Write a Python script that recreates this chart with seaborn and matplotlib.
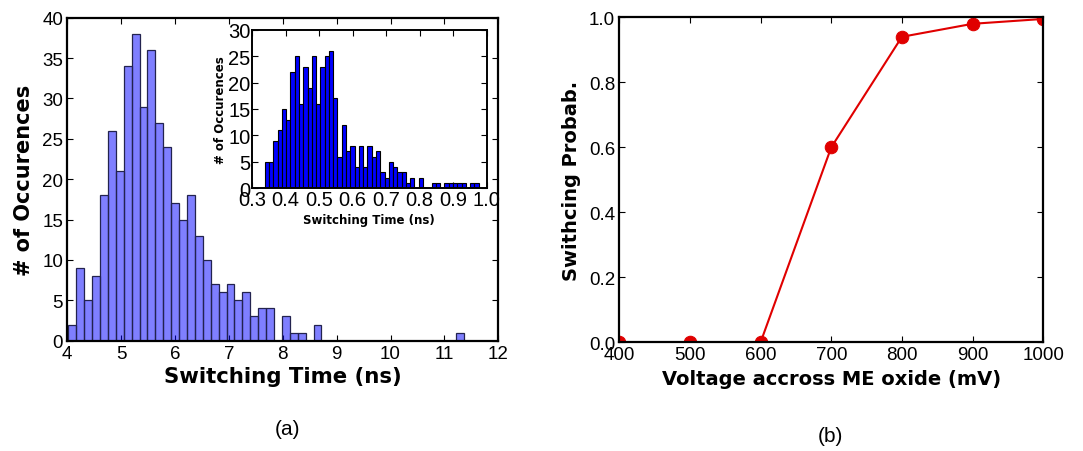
import numpy as np
import pandas as pd
import matplotlib
matplotlib.use("Agg")
import matplotlib.pyplot as plt
import seaborn as sns

# main histogram: 50 bins between t_min and t_max (ns), counts per bin
main_range = [4.02, 11.36]
main_counts = [2, 9, 5, 8, 18, 26, 21, 34, 38, 29, 36, 27, 24, 17, 15, 18, 13, 10, 7, 6,
               7, 5, 6, 3, 4, 4, 0, 3, 1, 1, 0, 2, 0, 0, 0, 0, 0, 0, 0, 0,
               0, 0, 0, 0, 0, 0, 0, 0, 0, 1]

# inset histogram: 50 bins
inset_range = [0.338, 0.976]
inset_counts = [5, 5, 9, 11, 15, 13, 22, 25, 16, 23, 19, 25, 16, 23, 25, 26, 17, 6, 12, 7,
                8, 4, 8, 4, 8, 6, 7, 3, 2, 5, 4, 3, 3, 1, 2, 0, 2, 0, 0, 1,
                1, 0, 1, 1, 1, 1, 1, 0, 1, 1]

# switching probability vs voltage
voltage = [400, 500, 600, 700, 800, 900, 1000]
prob = [0.0, 0.0, 0.0, 0.60, 0.94, 0.98, 0.995]

sns.set_style("ticks")
plt.rcParams['font.family'] = ['Liberation Sans', 'DejaVu Sans']
plt.rcParams['xtick.direction'] = 'in'
plt.rcParams['ytick.direction'] = 'in'
plt.rcParams['xtick.top'] = True
plt.rcParams['ytick.right'] = True
plt.rcParams['text.color'] = 'black'
plt.rcParams['axes.labelcolor'] = 'black'
plt.rcParams['xtick.color'] = 'black'
plt.rcParams['ytick.color'] = 'black'


def hist_df(rng, counts):
    edges = np.linspace(rng[0], rng[1], len(counts) + 1)
    centers = (edges[:-1] + edges[1:]) / 2
    return pd.DataFrame({"t": centers, "n": counts})


def style_axes(ax, lw=1.6, size=13):
    for s in ax.spines.values():
        s.set_linewidth(lw)
        s.set_color('black')
    ax.tick_params(which='major', length=4, width=0.8, labelsize=size, pad=3)


label_font = dict(family='DejaVu Sans', weight='bold')

fig = plt.figure(figsize=(10.83, 4.52), dpi=100)

# (a) main histogram
ax1 = fig.add_axes([0.0621, 0.244, 0.398, 0.7146])
sns.histplot(data=hist_df(main_range, main_counts), x="t", weights="n",
             bins=len(main_counts), binrange=main_range, facecolor=(0, 0, 1, 0.5),
             edgecolor='#23234f', linewidth=0.9, alpha=None, ax=ax1)
ax1.set_xlim(4, 12)
ax1.set_ylim(0, 40)
ax1.set_xticks(range(4, 13))
ax1.set_yticks(range(0, 41, 5))
style_axes(ax1, size=13.5)
ax1.set_xlabel("Switching Time (ns)", fontsize=15.3, labelpad=3, **label_font)
ax1.set_ylabel("# of Occurences", fontsize=15, labelpad=6, **label_font)

# inset
ax2 = fig.add_axes([0.2327, 0.5812, 0.2167, 0.3509])
sns.histplot(data=hist_df(inset_range, inset_counts), x="t", weights="n",
             bins=len(inset_counts), binrange=inset_range, color='blue', alpha=1,
             edgecolor='black', linewidth=0.8, ax=ax2)
ax2.set_xlim(0.3, 1.0)
ax2.set_ylim(0, 30)
ax2.set_xticks(np.arange(0.3, 1.01, 0.1))
ax2.set_xticklabels(["0.3", "0.4", "0.5", "0.6", "0.7", "0.8", "0.9", "1.0"])
ax2.set_yticks(range(0, 31, 5))
style_axes(ax2, lw=1.4, size=14.5)
ax2.tick_params(pad=1)
ax2.set_xlabel("Switching Time (ns)", fontsize=8.5, labelpad=3, **label_font)
ax2.set_ylabel("# of Occurences", fontsize=8.5, labelpad=1, **label_font)

# (b) probability curve
ax3 = fig.add_axes([0.5718, 0.2405, 0.3915, 0.719])
sns.lineplot(x=voltage, y=prob, color='#e00000', marker='o', markersize=9,
             markeredgecolor='#e00000', linewidth=1.5, ax=ax3)
ax3.set_xlim(400, 1000)
ax3.set_ylim(0, 1.0)
ax3.set_xticks(range(400, 1001, 100))
ax3.set_yticks(np.arange(0, 1.01, 0.2))
ax3.set_yticklabels(["0.0", "0.2", "0.4", "0.6", "0.8", "1.0"])
style_axes(ax3, size=13.5)
ax3.set_xlabel("Voltage accross ME oxide (mV)", fontsize=14, labelpad=4, **label_font)
ax3.set_ylabel("Swithcing Probab.", fontsize=14, labelpad=6, **label_font)
# markers on the frame get cut in half like in the original
for ln in ax3.lines:
    ln.set_clip_on(True)
    ln.set_clip_path(ax3.patch)

fig.text(287 / 1083, 1 - 430 / 452, "(a)", fontsize=15, ha='center', va='center')
fig.text(830 / 1083, 1 - 437 / 452, "(b)", fontsize=15, ha='center', va='center')

fig.savefig("out.png", dpi=100)
